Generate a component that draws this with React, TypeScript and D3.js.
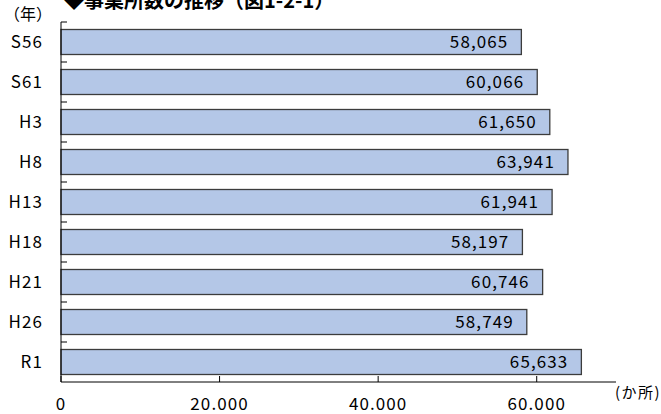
import { useEffect, useRef } from "react"
import * as d3 from "d3"

const categories = ["S56", "S61", "H3", "H8", "H13", "H18", "H21", "H26", "R1"]
const counts = [58065, 60066, 61650, 63941, 61941, 58197, 60746, 58749, 65633]
const xTicks = [0, 20000, 40000, 60000]
const xTickLabels = ["0", "20.000", "40.000", "60.000"]

const FONT = "'Noto Sans CJK JP', 'Noto Sans', sans-serif"

export default function App() {
  const svgRef = useRef<SVGSVGElement>(null)

  useEffect(() => {
    if (!svgRef.current) return
    const svg = d3.select(svgRef.current)
    svg.selectAll("*").remove()

    const width = 661
    const height = 414
    const margin = { top: 22, right: 45, bottom: 32, left: 61 }
    const innerW = width - margin.left - margin.right
    const innerH = height - margin.top - margin.bottom

    svg.attr("width", width).attr("height", height)

    // Title (cut off at top in the original)
    svg
      .append("text")
      .attr("x", 64)
      .attr("y", 8)
      .attr("font-family", FONT)
      .attr("font-size", 20)
      .attr("font-weight", "bold")
      .attr("fill", "#000")
      .text("◆事業所数の推移（図1-2-1）")

    svg
      .append("text")
      .attr("x", 4)
      .attr("y", 20)
      .attr("font-family", FONT)
      .attr("font-size", 16)
      .attr("fill", "#000")
      .text("（年）")

    const g = svg.append("g").attr("transform", `translate(${margin.left},${margin.top})`)

    const x = d3.scaleLinear().domain([0, 70000]).range([0, innerW])
    const y = d3
      .scaleBand()
      .domain(categories)
      .range([0, innerH])
      .paddingInner(0.375)
      .paddingOuter(0.1875)

    const step = y.step()

    // Bars
    g.selectAll(".bar")
      .data(categories)
      .enter()
      .append("rect")
      .attr("class", "bar")
      .attr("x", 0)
      .attr("y", (d) => y(d) || 0)
      .attr("width", (_d, i) => x(counts[i]))
      .attr("height", y.bandwidth())
      .attr("fill", "#b4c7e7")
      .attr("stroke", "#3c3c3c")
      .attr("stroke-width", 1.3)

    // Value labels
    g.selectAll(".val")
      .data(categories)
      .enter()
      .append("text")
      .attr("class", "val")
      .attr("x", (_d, i) => x(counts[i]) - 13)
      .attr("y", (d) => (y(d) || 0) + y.bandwidth() / 2)
      .attr("dy", "0.36em")
      .attr("text-anchor", "end")
      .attr("font-family", FONT)
      .attr("font-size", 17)
      .attr("letter-spacing", 1.1)
      .attr("fill", "#000")
      .text((_d, i) => d3.format(",")(counts[i]))

    // Y axis line and boundary ticks (inside)
    g.append("line")
      .attr("x1", 0)
      .attr("x2", 0)
      .attr("y1", 0)
      .attr("y2", innerH)
      .attr("stroke", "#000")
      .attr("stroke-width", 1)
    g.selectAll(".ytick")
      .data(categories)
      .enter()
      .append("line")
      .attr("class", "ytick")
      .attr("x1", 0)
      .attr("x2", 6)
      .attr("y1", (d) => (y(d) || 0) - (step - y.bandwidth()) / 2)
      .attr("y2", (d) => (y(d) || 0) - (step - y.bandwidth()) / 2)
      .attr("stroke", "#000")
      .attr("stroke-width", 1)

    // Category labels
    g.selectAll(".cat")
      .data(categories)
      .enter()
      .append("text")
      .attr("class", "cat")
      .attr("x", -18)
      .attr("y", (d) => (y(d) || 0) + y.bandwidth() / 2)
      .attr("dy", "0.36em")
      .attr("text-anchor", "end")
      .attr("font-family", FONT)
      .attr("font-size", 17)
      .attr("letter-spacing", 1.1)
      .attr("fill", "#000")
      .text((d) => d)

    // X axis
    g.append("line")
      .attr("x1", 0)
      .attr("x2", innerW)
      .attr("y1", innerH)
      .attr("y2", innerH)
      .attr("stroke", "#000")
      .attr("stroke-width", 1)
    g.selectAll(".xtick")
      .data(xTicks)
      .enter()
      .append("line")
      .attr("class", "xtick")
      .attr("x1", (d) => x(d))
      .attr("x2", (d) => x(d))
      .attr("y1", innerH)
      .attr("y2", innerH - 6)
      .attr("stroke", "#000")
      .attr("stroke-width", 1)
    g.selectAll(".xlab")
      .data(xTicks)
      .enter()
      .append("text")
      .attr("class", "xlab")
      .attr("x", (d) => x(d))
      .attr("y", innerH + 28)
      .attr("text-anchor", "middle")
      .attr("font-family", FONT)
      .attr("font-size", 17)
      .attr("letter-spacing", 1.1)
      .attr("fill", "#000")
      .text((_d, i) => xTickLabels[i])

    svg
      .append("text")
      .attr("x", 615)
      .attr("y", 398)
      .attr("font-family", FONT)
      .attr("font-size", 15)
      .attr("letter-spacing", 1.5)
      .attr("fill", "#000")
      .text("(か所)")
  }, [])

  return (
    <div style={{ position: "fixed", left: 0, top: 0, width: 661, height: 414, background: "#fff" }}>
      <svg ref={svgRef} style={{ display: "block" }} />
    </div>
  )
}
